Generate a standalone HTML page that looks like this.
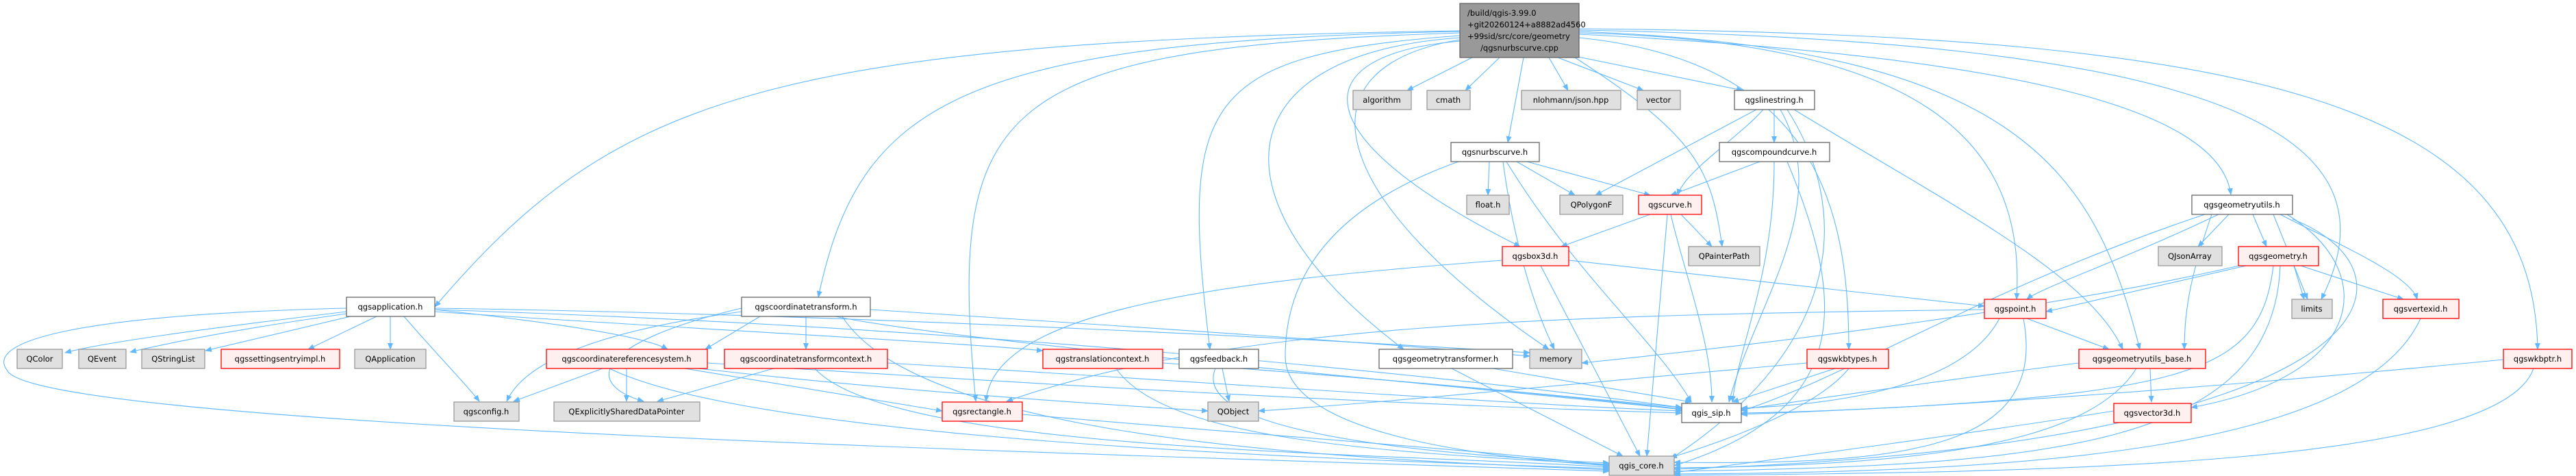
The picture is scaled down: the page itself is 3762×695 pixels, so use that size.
<!DOCTYPE html>
<html><head><meta charset="utf-8"><style>
html,body{margin:0;padding:0;background:#fff;}
svg{display:block;}
text{font-family:"DejaVu Sans","Liberation Sans",sans-serif;font-size:11.5px;fill:#000;text-anchor:middle;}
.e{fill:none;stroke:#63b8ff;stroke-width:1.1;marker-end:url(#a);}
.w{fill:#fff;stroke:#666;stroke-width:1.3;}
.g{fill:#e0e0e0;stroke:#999;stroke-width:1.3;}
.r{fill:#fff0f0;stroke:#f00;stroke-width:1.3;}
</style></head><body>
<svg width="3762" height="695" viewBox="0 0 3762 695" xmlns="http://www.w3.org/2000/svg">
<defs><marker id="a" markerWidth="10" markerHeight="8" refX="9" refY="4" orient="auto" markerUnits="userSpaceOnUse"><path d="M0,0 L10,4 L0,8 z" fill="#63b8ff"/></marker></defs>
<g>
<path class="e" d="M2150 84 L2055 132"/>
<path class="e" d="M2190 84 L2140 132"/>
<path class="e" d="M2262 84 L2290 132"/>
<path class="e" d="M2275 84 L2400 132"/>
<path class="e" d="M2290 80 L2545 132"/>
<path class="e" d="M2225 84 L2202 208"/>
<path class="e" d="M2306 50 C2900 80 3240 150 3258 284"/>
<path class="e" d="M2306 48 C2800 60 2960 200 2945 437"/>
<path class="e" d="M2306 46 C2950 70 3060 250 3125 510"/>
<path class="e" d="M2306 44 C3200 60 3520 180 3390 437"/>
<path class="e" d="M2306 42 C3300 50 3700 150 3706 510"/>
<path class="e" d="M2306 55 C2650 90 2700 300 2700 510"/>
<path class="e" d="M2300 84 C2480 200 2500 250 2515 360"/>
<path class="e" d="M2132 60 C1900 80 1900 200 2220 360"/>
<path class="e" d="M2132 58 C1880 100 1950 300 2262 510"/>
<path class="e" d="M2132 55 C1780 80 1770 300 2050 510"/>
<path class="e" d="M2132 52 C1750 80 1723 150 1767 510"/>
<path class="e" d="M2132 48 C1450 70 1383 150 1425 586"/>
<path class="e" d="M2132 46 C1400 60 1255 150 1195 434"/>
<path class="e" d="M2132 45 C1100 60 890 150 635 448"/>
<path class="e" d="M2565 160 L2330 285"/>
<path class="e" d="M2575 160 C2540 200 2460 250 2450 285"/>
<path class="e" d="M2591 160 L2591 208"/>
<path class="e" d="M2600 160 C2680 300 2560 450 2525 587"/>
<path class="e" d="M2610 160 C2700 300 2700 500 2440 670"/>
<path class="e" d="M2620 160 C2850 300 3050 400 3100 510"/>
<path class="e" d="M2175 236 L2173 285"/>
<path class="e" d="M2215 236 L2300 285"/>
<path class="e" d="M2230 236 L2410 285"/>
<path class="e" d="M2195 236 C2210 350 2240 450 2270 510"/>
<path class="e" d="M2200 236 C2300 400 2420 500 2470 587"/>
<path class="e" d="M2130 236 C1950 300 1877 400 1877 520 C1877 640 2200 670 2350 680"/>
<path class="e" d="M2570 236 L2440 285"/>
<path class="e" d="M2591 236 C2591 400 2540 500 2530 587"/>
<path class="e" d="M2610 236 C2700 450 2700 600 2445 680"/>
<path class="e" d="M2410 313 L2280 360"/>
<path class="e" d="M2455 313 L2500 360"/>
<path class="e" d="M2440 313 C2460 400 2500 500 2500 587"/>
<path class="e" d="M2435 313 L2405 666"/>
<path class="e" d="M2291 380 L2898 447"/>
<path class="e" d="M2194 380 C1800 410 1450 450 1440 586"/>
<path class="e" d="M2250 388 L2395 666"/>
<path class="e" d="M3255 313 L3210 360"/>
<path class="e" d="M3290 313 L3310 360"/>
<path class="e" d="M3240 313 C3100 380 2980 420 2960 437"/>
<path class="e" d="M3320 313 L3370 437"/>
<path class="e" d="M3330 313 C3400 350 3520 400 3530 437"/>
<path class="e" d="M3230 313 C3200 400 3190 450 3190 510"/>
<path class="e" d="M3220 313 C2900 420 2700 550 2543 600"/>
<path class="e" d="M3348 320 C3550 400 3500 650 2445 685"/>
<path class="e" d="M3340 313 C3480 400 3450 550 3200 595"/>
<path class="e" d="M3280 388 L2988 455"/>
<path class="e" d="M3270 388 C3000 450 2600 500 2310 530"/>
<path class="e" d="M3350 388 L3365 437"/>
<path class="e" d="M3360 388 L3510 437"/>
<path class="e" d="M3320 388 C3300 550 3200 580 2543 605"/>
<path class="e" d="M3330 388 C3320 650 3000 680 2445 688"/>
<path class="e" d="M2960 465 L3080 510"/>
<path class="e" d="M2920 465 C2870 560 2700 590 2543 596"/>
<path class="e" d="M2955 465 C2990 650 2800 680 2445 675"/>
<path class="e" d="M2898 452 C2300 460 1800 470 1470 586"/>
<path class="e" d="M3036 530 C2800 560 2600 590 2543 598"/>
<path class="e" d="M3140 538 L3142 587"/>
<path class="e" d="M3120 538 C3050 650 2800 680 2445 683"/>
<path class="e" d="M3087 600 C2900 630 2600 670 2445 690"/>
<path class="e" d="M3535 465 C3450 650 3000 690 2445 692"/>
<path class="e" d="M3656 525 C3300 560 2800 600 2543 603"/>
<path class="e" d="M3700 538 C3650 680 3000 690 2445 694"/>
<path class="e" d="M2680 538 L2530 587"/>
<path class="e" d="M2700 538 C2650 600 2500 650 2440 668"/>
<path class="e" d="M2639 530 C2300 560 2000 590 1838 600"/>
<path class="e" d="M2180 538 L2470 587"/>
<path class="e" d="M2120 538 L2370 666"/>
<path class="e" d="M1785 538 L1795 586"/>
<path class="e" d="M1838 540 C2100 560 2300 580 2456 597"/>
<path class="e" d="M1775 538 C1740 620 2000 660 2350 676"/>
<path class="e" d="M1630 538 C1700 640 2000 660 2350 678"/>
<path class="e" d="M1698 530 C2000 550 2300 580 2456 595"/>
<path class="e" d="M1493 605 C1900 640 2200 660 2350 680"/>
<path class="e" d="M1130 538 L960 586"/>
<path class="e" d="M1190 538 C1300 660 2000 660 2350 682"/>
<path class="e" d="M1296 530 C1800 560 2200 590 2456 600"/>
<path class="e" d="M880 538 L750 586"/>
<path class="e" d="M915 538 L915 586"/>
<path class="e" d="M890 538 C1100 640 1900 670 2350 684"/>
<path class="e" d="M1000 538 L1376 600"/>
<path class="e" d="M1020 538 C1300 570 1600 590 1764 600"/>
<path class="e" d="M1033 530 C1500 560 2000 590 2456 603"/>
<path class="e" d="M1177 462 L1177 510"/>
<path class="e" d="M1110 462 L1030 510"/>
<path class="e" d="M1083 455 C900 480 770 520 740 586"/>
<path class="e" d="M1083 450 C870 500 850 560 940 586"/>
<path class="e" d="M1271 452 C1700 480 2000 500 2234 520"/>
<path class="e" d="M1220 462 C1400 500 2200 570 2456 598"/>
<path class="e" d="M1230 462 C1350 650 2000 670 2350 686"/>
<path class="e" d="M506 455 C300 480 150 500 95 515"/>
<path class="e" d="M506 458 C350 480 250 500 190 514"/>
<path class="e" d="M512 462 L300 512"/>
<path class="e" d="M550 462 L450 510"/>
<path class="e" d="M570 462 L570 510"/>
<path class="e" d="M590 462 C640 520 680 560 700 586"/>
<path class="e" d="M506 450 C100 460 -20 500 10 540 C40 620 1500 660 2350 688"/>
<path class="e" d="M635 452 C800 470 940 490 975 510"/>
<path class="e" d="M635 455 C1000 480 1400 500 1523 512"/>
<path class="e" d="M635 452 C1500 480 2200 560 2456 595"/>
<path class="e" d="M635 450 C1300 460 2000 500 2234 515"/>
</g>
<g>
<rect x="2132" y="5" width="174" height="79" fill="#999" stroke="#666" stroke-width="1.3"/>
<text x="2143" y="23" style="text-anchor:start">/build/qgis-3.99.0</text>
<text x="2143" y="40" style="text-anchor:start">+git20260124+a8882ad4560</text>
<text x="2143" y="57" style="text-anchor:start">+99sid/src/core/geometry</text>
<text x="2219" y="74">/qgsnurbscurve.cpp</text>

<rect class="g" x="1976" y="132" width="85" height="28"/><text x="2018" y="150">algorithm</text>
<rect class="g" x="2084" y="132" width="63" height="28"/><text x="2115" y="150">cmath</text>
<rect class="g" x="2222" y="132" width="145" height="28"/><text x="2294" y="150">nlohmann/json.hpp</text>
<rect class="g" x="2391" y="132" width="63" height="28"/><text x="2422" y="150">vector</text>
<rect class="w" x="2533" y="132" width="117" height="28"/><text x="2591" y="150">qgslinestring.h</text>

<rect class="w" x="2119" y="208" width="129" height="28"/><text x="2183" y="226">qgsnurbscurve.h</text>
<rect class="w" x="2511" y="208" width="161" height="28"/><text x="2591" y="226">qgscompoundcurve.h</text>

<rect class="g" x="2142" y="285" width="62" height="28"/><text x="2173" y="303">float.h</text>
<rect class="g" x="2278" y="285" width="92" height="28"/><text x="2324" y="303">QPolygonF</text>
<rect class="r" x="2393" y="285" width="92" height="28"/><text x="2439" y="303">qgscurve.h</text>
<rect class="w" x="3201" y="285" width="147" height="28"/><text x="3274" y="303">qgsgeometryutils.h</text>

<rect class="r" x="2194" y="360" width="97" height="28"/><text x="2242" y="378">qgsbox3d.h</text>
<rect class="g" x="2466" y="360" width="104" height="28"/><text x="2518" y="378">QPainterPath</text>
<rect class="g" x="3152" y="360" width="93" height="28"/><text x="3198" y="378">QJsonArray</text>
<rect class="r" x="3269" y="360" width="117" height="28"/><text x="3327" y="378">qgsgeometry.h</text>

<rect class="w" x="506" y="434" width="129" height="28"/><text x="570" y="452">qgsapplication.h</text>
<rect class="w" x="1083" y="434" width="188" height="28"/><text x="1177" y="452">qgscoordinatetransform.h</text>
<rect class="r" x="2898" y="437" width="90" height="28"/><text x="2943" y="455">qgspoint.h</text>
<rect class="g" x="3347" y="437" width="59" height="28"/><text x="3376" y="455">limits</text>
<rect class="r" x="3480" y="437" width="111" height="28"/><text x="3535" y="455">qgsvertexid.h</text>

<rect class="g" x="25" y="510" width="66" height="28"/><text x="58" y="528">QColor</text>
<rect class="g" x="115" y="510" width="69" height="28"/><text x="149" y="528">QEvent</text>
<rect class="g" x="207" y="510" width="92" height="28"/><text x="253" y="528">QStringList</text>
<rect class="r" x="323" y="510" width="173" height="28"/><text x="409" y="528">qgssettingsentryimpl.h</text>
<rect class="g" x="518" y="510" width="104" height="28"/><text x="570" y="528">QApplication</text>
<rect class="r" x="798" y="510" width="235" height="28"/><text x="915" y="528">qgscoordinatereferencesystem.h</text>
<rect class="r" x="1058" y="510" width="238" height="28"/><text x="1177" y="528">qgscoordinatetransformcontext.h</text>
<rect class="r" x="1523" y="510" width="175" height="28"/><text x="1610" y="528">qgstranslationcontext.h</text>
<rect class="w" x="1722" y="510" width="116" height="28"/><text x="1780" y="528">qgsfeedback.h</text>
<rect class="w" x="2014" y="510" width="195" height="28"/><text x="2111" y="528">qgsgeometrytransformer.h</text>
<rect class="g" x="2234" y="510" width="76" height="28"/><text x="2272" y="528">memory</text>
<rect class="r" x="2639" y="510" width="119" height="28"/><text x="2698" y="528">qgswkbtypes.h</text>
<rect class="r" x="3036" y="510" width="185" height="28"/><text x="3128" y="528">qgsgeometryutils_base.h</text>
<rect class="r" x="3656" y="510" width="100" height="28"/><text x="3706" y="528">qgswkbptr.h</text>

<rect class="g" x="663" y="587" width="95" height="28"/><text x="710" y="605">qgsconfig.h</text>
<rect class="g" x="809" y="587" width="213" height="28"/><text x="915" y="605">QExplicitlySharedDataPointer</text>
<rect class="r" x="1376" y="587" width="117" height="28"/><text x="1434" y="605">qgsrectangle.h</text>
<rect class="g" x="1764" y="587" width="74" height="28"/><text x="1801" y="605">QObject</text>
<rect class="w" x="2456" y="589" width="87" height="28"/><text x="2499" y="607">qgis_sip.h</text>
<rect class="r" x="3087" y="589" width="113" height="28"/><text x="3143" y="607">qgsvector3d.h</text>

<rect class="g" x="2350" y="666" width="95" height="28"/><text x="2397" y="684">qgis_core.h</text>
</g>
</svg>
</body></html>
